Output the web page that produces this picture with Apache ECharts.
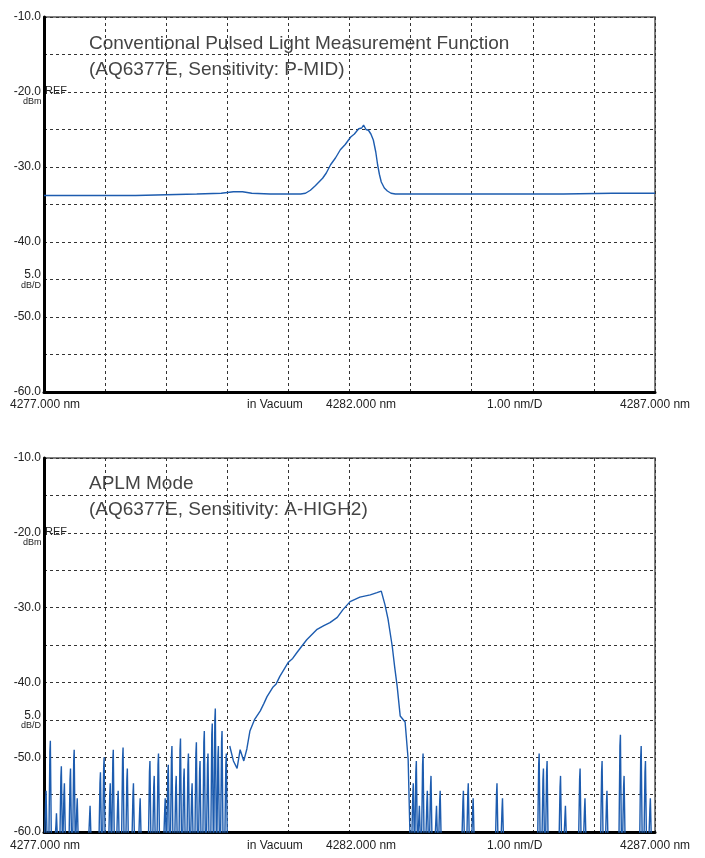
<!DOCTYPE html>
<html><head><meta charset="utf-8">
<script src="https://cdn.jsdelivr.net/npm/echarts@6/dist/echarts.min.js"></script>
<style>html,body{margin:0;padding:0;background:#fff}#c{width:705px;height:858px}</style>
</head><body><div id="c"></div>
<script>
// Top trace: conventional pulsed light (nm, dBm)
const topX = [4277.0,4277.5,4278.0,4278.5,4279.0,4279.5,4279.9,4280.1,4280.25,4280.4,4280.7,4281.0,4281.2,4281.28,4281.36,4281.44,4281.5,4281.56,4281.62,4281.69,4281.77,4281.85,4281.93,4282.02,4282.08,4282.15,4282.2,4282.23,4282.27,4282.31,4282.35,4282.39,4282.43,4282.46,4282.49,4282.52,4282.57,4282.62,4282.68,4282.75,4283.5,4284.5,4285.5,4286.3,4286.6,4287.0];
const topY = [-33.8,-33.8,-33.8,-33.8,-33.7,-33.6,-33.5,-33.3,-33.3,-33.5,-33.6,-33.6,-33.6,-33.5,-33.1,-32.5,-32.0,-31.5,-30.8,-29.7,-28.8,-27.7,-27.0,-26.0,-25.6,-24.9,-24.8,-24.4,-25.0,-25.1,-25.6,-26.4,-28.0,-29.7,-31.0,-32.0,-32.8,-33.2,-33.5,-33.6,-33.6,-33.6,-33.6,-33.5,-33.5,-33.5];
// Bottom trace: APLM mode main signal
const botX = [4280.04,4280.10,4280.16,4280.21,4280.27,4280.32,4280.37,4280.45,4280.54,4280.60,4280.65,4280.75,4280.80,4280.86,4281.00,4281.07,4281.14,4281.30,4281.47,4281.58,4281.68,4281.80,4281.89,4282.01,4282.17,4282.34,4282.45,4282.52,4282.58,4282.63,4282.70,4282.74,4282.78,4282.83,4282.88,4282.91,4282.96,4282.99];
const botY = [-48.5,-50.5,-51.5,-49.0,-50.5,-48.9,-46.5,-44.9,-43.8,-42.8,-41.9,-40.6,-40.2,-39.2,-37.3,-36.8,-36.0,-34.3,-32.9,-32.4,-32.0,-31.3,-30.3,-29.2,-28.6,-28.3,-28.0,-27.8,-29.6,-31.5,-35.2,-38.0,-40.5,-44.5,-45.0,-45.3,-50.3,-60.5];
// Bottom trace: noise spikes (position nm, peak dBm)
const noiseX = [4277.03,4277.10,4277.20,4277.28,4277.33,4277.43,4277.49,4277.54,4277.75,4277.92,4277.98,4278.08,4278.13,4278.21,4278.29,4278.36,4278.46,4278.57,4278.73,4278.80,4278.87,4278.98,4279.03,4279.09,4279.16,4279.23,4279.29,4279.36,4279.42,4279.49,4279.55,4279.62,4279.68,4279.75,4279.80,4279.85,4279.91,4279.98,4283.04,4283.09,4283.14,4283.20,4283.27,4283.33,4283.42,4283.48,4283.86,4283.94,4284.02,4284.41,4284.50,4285.10,4285.17,4285.23,4285.45,4285.53,4285.77,4285.85,4286.13,4286.21,4286.43,4286.49,4286.77,4286.84,4286.92];
const noiseY = [-56,-49.3,-59,-52.7,-55,-53,-50.5,-57,-58,-53.5,-51.5,-55,-50.5,-56,-50.2,-53,-55,-57,-52,-54,-51,-57,-52.5,-50,-54,-49,-53,-51,-55,-49.5,-52,-48,-51,-47,-45,-50,-48,-51,-55,-52,-58,-51,-56,-54,-58,-56,-56,-55,-57,-55,-57,-51,-53,-52,-54,-58,-53,-57,-52,-56,-48.5,-54,-50,-52,-57];
const yTicks = [-10,-20,-30,-40,-50,-60];

const spikes = [];
noiseX.forEach((x,i)=>{spikes.push([x-0.02,-61],[x-0.004,noiseY[i]],[x+0.004,noiseY[i]+1.5],[x+0.02,-61],null);});
const blue = '#1d5caf';
const font = 'Liberation Sans, Arial, sans-serif';
function xa(g){return {gridIndex:g,type:'value',min:4277,max:4287,interval:1,
  axisLine:{show:true,onZero:false,lineStyle:{color:'#000',width:3}},axisTick:{show:false},axisLabel:{show:false},
  splitLine:{show:true,lineStyle:{color:'#333',type:[3,3],width:1}}};}
function ya(g){return {gridIndex:g,type:'value',min:-60,max:-10,interval:5,
  axisLine:{show:true,onZero:false,lineStyle:{color:'#000',width:3}},axisTick:{show:false},
  axisLabel:{color:'#222',fontFamily:font,fontSize:12,margin:3,
    formatter:v=>yTicks.includes(v)?v.toFixed(1):(v===-45?'{a|5.0}\n{b|dB/D}':''),
    rich:{a:{fontSize:12,fontFamily:font,color:'#222',align:'right'},b:{fontSize:9,fontFamily:font,color:'#222',align:'right'}}},
  splitLine:{show:true,lineStyle:{color:'#333',type:[3,3],width:1}}};}
const chart = echarts.init(document.getElementById('c'));
const t = (x,y,s,size,fill)=>({type:'text',left:x,top:y,style:{text:s,fontSize:size||12,fontFamily:font,fill:fill||'#222'}});
const gfx = [];
[0,441].forEach(o=>{
  gfx.push(t(10,o+399,'4277.000 nm'),t(247,o+399,'in Vacuum'),t(326,o+399,'4282.000 nm'),t(487,o+399,'1.00 nm/D'),t(620,o+399,'4287.000 nm'));
  gfx.push(t(45,o+85,'REF',11),t(23,o+97,'dBm',9));
});
gfx.push(t(89,34,'Conventional Pulsed Light Measurement Function',19,'#444'));
gfx.push(t(89,60,'(AQ6377E, Sensitivity: P-MID)',19,'#444'));
gfx.push(t(89,474,'APLM Mode',19,'#444'));
gfx.push(t(89,500,'(AQ6377E, Sensitivity: A-HIGH2)',19,'#444'));
chart.setOption({
  animation:false,
  grid:[{left:44,top:17,width:611,height:375,show:true,borderColor:'#555',borderWidth:1.5},
        {left:44,top:458,width:611,height:374,show:true,borderColor:'#555',borderWidth:1.5}],
  xAxis:[xa(0),xa(1)], yAxis:[ya(0),ya(1)],
  series:[
    {type:'line',xAxisIndex:0,yAxisIndex:0,data:topX.map((x,i)=>[x,topY[i]]),showSymbol:false,lineStyle:{color:blue,width:1.4}},
    {type:'line',xAxisIndex:1,yAxisIndex:1,data:botX.map((x,i)=>[x,botY[i]]),showSymbol:false,lineStyle:{color:blue,width:1.4}},
    {type:'line',xAxisIndex:1,yAxisIndex:1,data:spikes,connectNulls:false,showSymbol:false,lineStyle:{color:blue,width:1.4}}
  ],
  graphic:gfx
});
</script></body></html>
